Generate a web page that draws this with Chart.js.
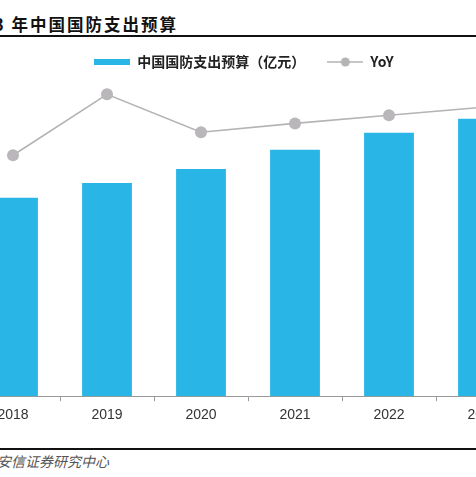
<!DOCTYPE html>
<html><head><meta charset="utf-8">
<script src="https://cdn.jsdelivr.net/npm/chart.js@4.4.1/dist/chart.umd.min.js"></script>
<style>
html,body{margin:0;padding:0;background:#fff;width:476px;height:477px;overflow:hidden;position:relative}
#title{position:absolute;left:-6px;top:12px;font-family:"Noto Sans CJK SC",sans-serif;font-weight:700;font-size:16.5px;letter-spacing:2px;color:#111;white-space:nowrap}
#rule1{position:absolute;left:0;top:35px;width:476px;height:2px;background:#111}
#rule2{position:absolute;left:0;top:448px;width:476px;height:2px;background:#111}
#src{position:absolute;left:-3px;top:451px;font-family:"Noto Sans CJK SC",sans-serif;font-style:italic;font-size:14px;color:#555;white-space:nowrap}
#wrap{position:absolute;left:-42px;top:33px;width:572px;height:397px}
</style></head>
<body>
<div id="title">3 年中国国防支出预算</div>
<div id="rule1"></div>
<div id="wrap"><canvas id="c"></canvas></div>
<div id="rule2"></div>
<div id="src">安信证券研究中心</div>
<script>
const years = ["2018","2019","2020","2021","2022","2023"];
const budget = [11070, 11900, 12680, 13750, 14700, 15480];
const yoy = [5.97, 7.48, 6.54, 6.76, 6.96, 7.16];
const budgetLabel = "中国国防支出预算（亿元）";
const yoyLabel = "YoY";

function makeIcon(kind){
  const c = document.createElement('canvas');
  c.width = 36; c.height = 14;
  const g = c.getContext('2d');
  if (kind === 'bar') {
    g.fillStyle = '#29b6e6';
    g.fillRect(0, 4, 36, 6);
  } else {
    g.strokeStyle = '#b5b3b5'; g.lineWidth = 1.5;
    g.beginPath(); g.moveTo(0,7); g.lineTo(36,7); g.stroke();
    g.fillStyle = '#b5b3b5';
    g.beginPath(); g.arc(18,7,4.5,0,Math.PI*2); g.fill();
  }
  return c;
}
const barIcon = makeIcon('bar'), lineIcon = makeIcon('line');

new Chart(document.getElementById('c'), {
  data: {
    labels: years,
    datasets: [
      {type:'line', label: yoyLabel, data: yoy, yAxisID:'y2', borderColor:'#b5b3b5', borderWidth:1.6,
       pointRadius:6, pointBackgroundColor:'#b9b7b9', pointBorderWidth:0, pointHoverRadius:6, order:0},
      {type:'bar', label: budgetLabel, data: budget, yAxisID:'y', backgroundColor:'#29b6e6',
       barPercentage:0.53, categoryPercentage:1.0, order:1}
    ]
  },
  options: {
    responsive:true, maintainAspectRatio:false, animation:false,
    layout:{padding:0, autoPadding:false},
    plugins:{
      legend:{
        display:true, position:'top',
        labels:{
          usePointStyle:true, pointStyleWidth:36, boxHeight:14,
          font:{family:'"Noto Sans CJK SC", sans-serif', size:14, weight:'bold'}, color:'#222', padding:22,
          generateLabels(chart){
            return [
              {text:budgetLabel, pointStyle:barIcon, datasetIndex:1, fontColor:'#222', lineWidth:0, strokeStyle:'transparent', fillStyle:'transparent'},
              {text:yoyLabel, pointStyle:lineIcon, datasetIndex:0, fontColor:'#222', lineWidth:0, strokeStyle:'transparent', fillStyle:'transparent'}
            ];
          }
        }
      },
      tooltip:{enabled:false}
    },
    scales:{
      x:{
        grid:{display:true, drawOnChartArea:false, drawTicks:true, tickLength:5, color:'#999', offset:true},
        border:{display:true, color:'#999', width:1},
        ticks:{color:'#333', font:{family:'"Liberation Sans", Arial, sans-serif', size:14}, padding:6, maxRotation:0}
      },
      y:{display:true, position:'left', min:0, max:17700,
         ticks:{display:false}, grid:{display:false, drawTicks:false}, border:{display:false},
         afterFit(s){ s.width = 8; }},
      y2:{display:false, min:0, max:7.86, position:'right'}
    }
  }
});
</script>
</body></html>
